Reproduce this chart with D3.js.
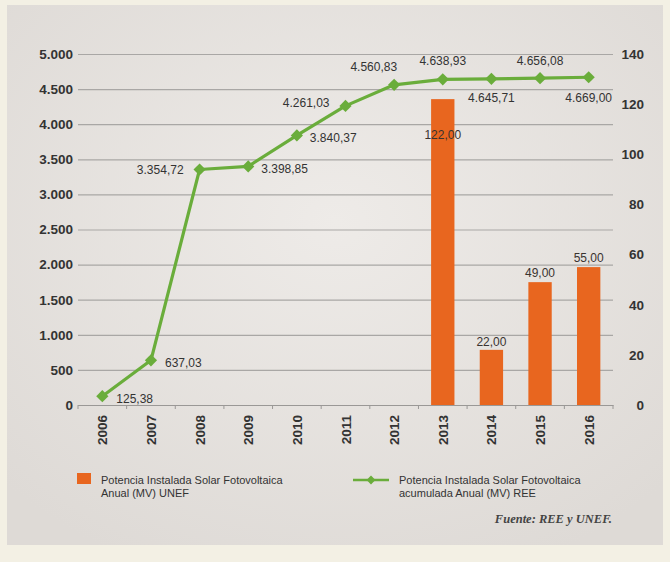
<!DOCTYPE html>
<html>
<head>
<meta charset="utf-8">
<script src="https://cdn.jsdelivr.net/npm/d3@7/dist/d3.min.js"></script>
<style>
  html, body { margin: 0; padding: 0; background: #f3f0e4; }
  svg { display: block; }
</style>
</head>
<body>
<svg id="chart" width="670" height="562"></svg>
<script>
// Annual installed solar PV power (bars, right axis) and accumulated power (line, left axis)
const years = ["2006", "2007", "2008", "2009", "2010", "2011", "2012", "2013", "2014", "2015", "2016"];
const accumulated = [125.38, 637.03, 3354.72, 3398.85, 3840.37, 4261.03, 4560.83, 4638.93, 4645.71, 4656.08, 4669.00];
const annualYears = ["2013", "2014", "2015", "2016"];
const annual = [122.00, 22.00, 49.00, 55.00];
const leftTicks = [0, 500, 1000, 1500, 2000, 2500, 3000, 3500, 4000, 4500, 5000];
const rightTicks = [0, 20, 40, 60, 80, 100, 120, 140];
const barLegend = ["Potencia Instalada Solar Fotovoltaica", "Anual (MV) UNEF"];
const lineLegend = ["Potencia Instalada Solar Fotovoltaica", "acumulada Anual (MV) REE"];
const sourceNote = "Fuente: REE y UNEF.";

// where each line label sits relative to its point: [dx, dy, anchor]
const lineLabelPlace = [
  [14, 3, "start"], [14, 3, "start"], [-16, 0, "end"], [13, 2, "start"], [13, 2, "start"],
  [-16, -3, "end"], [3, -18, "end"], [0, -19, "middle"], [0, 19, "middle"], [0, -17, "middle"], [0, 21, "middle"]
];
// vertical offset of each bar label from the bar top
const barLabelDy = [36, -8, -9, -9];

const fmt = v => {
  const s = v.toFixed(2).split(".");
  return s[0].replace(/\B(?=(\d{3})+(?!\d))/g, ".") + "," + s[1];
};
const fmtTick = v => String(v).replace(/\B(?=(\d{3})+(?!\d))/g, ".");

const svg = d3.select("#chart");
const font = "'Liberation Sans', Arial, Helvetica, sans-serif";

// panel background with soft light centre
const defs = svg.append("defs");
const grad = defs.append("radialGradient").attr("id", "panelGrad")
  .attr("cx", "50%").attr("cy", "40%").attr("r", "70%");
grad.append("stop").attr("offset", "0%").attr("stop-color", "#eeebe8");
grad.append("stop").attr("offset", "100%").attr("stop-color", "#dedad6");
svg.append("rect").attr("x", 7).attr("y", 5).attr("width", 656).attr("height", 540)
  .attr("fill", "url(#panelGrad)");

const plot = { left: 78, right: 613, top: 54, bottom: 405 };

const x = d3.scaleBand().domain(years).range([plot.left, plot.right]).padding(0);
const yL = d3.scaleLinear().domain([0, 5000]).range([plot.bottom, plot.top]);
const yR = d3.scaleLinear().domain([0, 140]).range([plot.bottom, plot.top]);

// gridlines + left axis labels
const leftAxis = d3.axisLeft(yL).tickValues(leftTicks).tickFormat(fmtTick)
  .tickSize(-(plot.right - plot.left)).tickPadding(5);
const gL = svg.append("g").attr("transform", `translate(${plot.left},0)`).call(leftAxis);
gL.select(".domain").remove();
gL.selectAll(".tick line").attr("stroke", "#a9a7a5").attr("stroke-width", 1.2);
gL.selectAll(".tick text").attr("font-family", font).attr("font-size", 13.5)
  .attr("font-weight", "bold").attr("fill", "#333");

// right axis labels
const rightAxis = d3.axisRight(yR).tickValues(rightTicks).tickSize(0).tickPadding(0);
const gR = svg.append("g").attr("transform", `translate(${plot.right + 31},0)`).call(rightAxis);
gR.select(".domain").remove();
gR.selectAll(".tick text").attr("text-anchor", "end").attr("font-family", font)
  .attr("font-size", 13.5).attr("font-weight", "bold").attr("fill", "#333");

// x axis with rotated year labels
const bottomAxis = d3.axisBottom(x).tickSize(0).tickPadding(0);
const gX = svg.append("g").attr("transform", `translate(0,${plot.bottom})`).call(bottomAxis);
gX.select(".domain").attr("stroke", "#9a9896").attr("stroke-width", 1.2);
gX.selectAll(".tick text")
  .attr("font-family", font).attr("font-size", 13.5).attr("font-weight", "bold").attr("fill", "#333")
  .attr("text-anchor", "end").attr("dy", null)
  .attr("transform", "translate(5,10) rotate(-90)");
// small separators between years
gX.selectAll(".sep").data(years.slice(1).concat(["end"])).enter().append("line")
  .attr("class", "sep")
  .attr("x1", (d, i) => x(years[i]) + x.bandwidth()).attr("x2", (d, i) => x(years[i]) + x.bandwidth())
  .attr("y1", 0).attr("y2", 4).attr("stroke", "#9a9896");
gX.append("line").attr("x1", plot.left).attr("x2", plot.left).attr("y1", 0).attr("y2", 4).attr("stroke", "#9a9896");

// bars
const barW = x.bandwidth() * 0.48;
const barData = annualYears.map((y, i) => ({ year: y, value: annual[i], dy: barLabelDy[i] }));
svg.append("g").selectAll("rect").data(barData).enter().append("rect")
  .attr("x", d => x(d.year) + (x.bandwidth() - barW) / 2)
  .attr("y", d => yR(d.value))
  .attr("width", barW)
  .attr("height", d => yR(0) - yR(d.value))
  .attr("fill", "#e8661f");

svg.append("g").selectAll("text").data(barData).enter().append("text")
  .attr("x", d => x(d.year) + x.bandwidth() / 2)
  .attr("y", d => yR(d.value) + d.dy)
  .attr("dy", "0.35em")
  .attr("text-anchor", "middle")
  .attr("font-family", font).attr("font-size", 12).attr("fill", "#3a3330")
  .text(d => fmt(d.value));

// accumulated line
const lineData = years.map((y, i) => ({ year: y, value: accumulated[i], place: lineLabelPlace[i] }));
const cx = d => x(d.year) + x.bandwidth() / 2;
const line = d3.line().x(cx).y(d => yL(d.value));
svg.append("path").datum(lineData).attr("d", line)
  .attr("fill", "none").attr("stroke", "#6aad3b").attr("stroke-width", 3.2)
  .attr("stroke-linejoin", "round");

const diamond = d3.symbol().type(d3.symbolDiamond2).size(95);
svg.append("g").selectAll("path").data(lineData).enter().append("path")
  .attr("d", diamond)
  .attr("transform", d => `translate(${cx(d)},${yL(d.value)}) rotate(0)`)
  .attr("fill", "#6aad3b");

svg.append("g").selectAll("text").data(lineData).enter().append("text")
  .attr("x", d => cx(d) + d.place[0])
  .attr("y", d => yL(d.value) + d.place[1])
  .attr("dy", "0.35em")
  .attr("text-anchor", d => d.place[2])
  .attr("font-family", font).attr("font-size", 12).attr("fill", "#333")
  .text(d => fmt(d.value));

// legend
const leg = svg.append("g").attr("font-family", font).attr("font-size", 11).attr("fill", "#333");
leg.append("rect").attr("x", 77).attr("y", 473).attr("width", 14).attr("height", 11).attr("fill", "#e8661f");
leg.append("text").selectAll("tspan").data(barLegend).enter().append("tspan")
  .attr("x", 101).attr("y", (d, i) => 484 + i * 12.5).text(d => d);

leg.append("line").attr("x1", 353).attr("x2", 389).attr("y1", 480).attr("y2", 480)
  .attr("stroke", "#6aad3b").attr("stroke-width", 2.5);
leg.append("path").attr("d", d3.symbol().type(d3.symbolDiamond2).size(50))
  .attr("transform", "translate(371,480)").attr("fill", "#6aad3b");
leg.append("text").selectAll("tspan").data(lineLegend).enter().append("tspan")
  .attr("x", 399).attr("y", (d, i) => 484 + i * 12.5).text(d => d);

svg.append("text").attr("x", 612).attr("y", 523).attr("text-anchor", "end")
  .attr("font-family", "'Liberation Serif', 'Times New Roman', serif")
  .attr("font-style", "italic").attr("font-weight", "bold").attr("font-size", 12.5).attr("fill", "#444")
  .text(sourceNote);
</script>
</body>
</html>
